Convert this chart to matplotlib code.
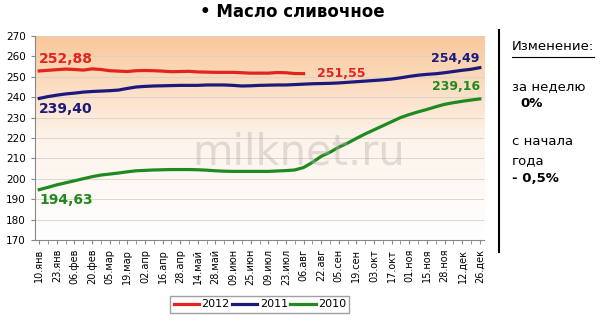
import numpy as np
import matplotlib.pyplot as plt
from matplotlib.colors import LinearSegmentedColormap

# Подписи оси X (каждая вторая неделя)
labels = ["10.янв", "23.янв", "06.фев", "20.фев", "05.мар", "19.мар", "02.апр",
          "16.апр", "28.апр", "14.май", "28.май", "09.июн", "25.июн", "09.июл",
          "23.июл", "06.авг", "22.авг", "05.сен", "19.сен", "03.окт", "17.окт",
          "01.ноя", "15.ноя", "28.ноя", "12.дек", "26.дек"]

# Цены по неделям
y2012 = [252.88, 253.2, 253.5, 253.8, 253.6, 253.3, 253.9, 253.6, 253.0, 252.8,
         252.6, 253.0, 253.1, 253.0, 252.8, 252.5, 252.6, 252.7, 252.4, 252.3,
         252.2, 252.2, 252.2, 252.0, 251.8, 251.8, 251.8, 252.1, 252.0, 251.6,
         251.55]
y2011 = [239.40, 240.3, 241.0, 241.6, 242.0, 242.5, 242.8, 243.0, 243.2, 243.5,
         244.3, 245.0, 245.3, 245.5, 245.6, 245.7, 245.8, 245.8, 245.8, 246.0,
         246.0, 246.0, 245.8, 245.5, 245.6, 245.8, 245.9, 246.0, 246.0, 246.2,
         246.4, 246.6, 246.7, 246.8, 247.0, 247.3, 247.6, 247.9, 248.2, 248.5,
         248.9, 249.5, 250.2, 250.8, 251.2, 251.5, 252.0, 252.6, 253.2, 253.7,
         254.49]
y2010 = [194.63, 195.8, 197.0, 198.0, 199.0, 200.0, 201.0, 201.8, 202.3, 202.8,
         203.4, 203.9, 204.1, 204.3, 204.4, 204.5, 204.5, 204.5, 204.4, 204.2,
         203.9, 203.7, 203.6, 203.6, 203.6, 203.6, 203.6, 203.8, 204.0, 204.3,
         205.5, 208.0, 211.0, 213.0, 215.5, 217.5, 219.8, 222.0, 224.0, 226.0,
         228.0, 230.0, 231.5, 232.8, 234.0, 235.3, 236.5, 237.3, 238.0, 238.6,
         239.16]

c12, c11, c10 = "#e3231d", "#1b1a7c", "#1f8a1f"

fig = plt.figure(figsize=(6, 3.19), dpi=100)
ax = fig.add_axes([0.058, 0.248, 0.749, 0.639])

n = len(y2011)
x = np.arange(n)
ax.set_xlim(-0.5, n - 0.5)
ax.set_ylim(170, 270)

# Градиентный фон
grad = LinearSegmentedColormap.from_list("g", ["white", "#fdf3ea", "#f9c89b"])
ax.imshow(np.linspace(0, 1, 256).reshape(-1, 1), cmap=grad, aspect="auto",
          extent=[-0.5, n - 0.5, 170, 270], origin="lower", zorder=0)

for v in range(180, 271, 10):
    ax.axhline(v, color="#d9d0c8", lw=0.6, zorder=1)

fig.text(0.497, 0.522, "milknet.ru", fontsize=30, color="#b8b0b0",
         alpha=0.4, ha="center", va="center", zorder=1)

ax.plot(np.arange(len(y2012)), y2012, color=c12, lw=2.3, label="2012", zorder=3)
ax.plot(x, y2011, color=c11, lw=2.3, label="2011", zorder=3)
ax.plot(x, y2010, color=c10, lw=2.3, label="2010", zorder=3)

fs = 10
ax.text(0, 255.5, f"{y2012[0]:.2f}".replace(".", ","), color=c12,
        fontsize=fs, fontweight="bold", va="bottom")
ax.text(0, 237.5, f"{y2011[0]:.2f}".replace(".", ","), color=c11,
        fontsize=fs, fontweight="bold", va="top")
ax.text(0, 193, f"{y2010[0]:.2f}".replace(".", ","), color=c10,
        fontsize=fs, fontweight="bold", va="top")
ax.text(len(y2012) + 0.5, y2012[-1], f"{y2012[-1]:.2f}".replace(".", ","),
        color=c12, fontsize=9, fontweight="bold", va="center")
ax.text(n - 1, 256, f"{y2011[-1]:.2f}".replace(".", ","), color=c11,
        fontsize=9, fontweight="bold", va="bottom", ha="right")
ax.text(n - 1, 242, f"{y2010[-1]:.2f}".replace(".", ","), color=c10,
        fontsize=9, fontweight="bold", va="bottom", ha="right")

ax.set_xticks(x, minor=True)
ax.set_xticks(x[::2])
ax.set_xticklabels(labels, rotation=90, fontsize=7)
ax.tick_params(axis="x", which="both", length=3, color="#888888")
ax.set_yticks(range(170, 271, 10))
ax.tick_params(axis="y", labelsize=7.5, length=3, color="#888888")
for s in ["top", "right"]:
    ax.spines[s].set_visible(False)
for s in ["left", "bottom"]:
    ax.spines[s].set_color("#888888")

leg = fig.legend(loc="center", bbox_to_anchor=(0.433, 0.0455), ncol=3,
                 fontsize=8, frameon=True, fancybox=False, edgecolor="#888888",
                 handlelength=2.3, handletextpad=0.2, columnspacing=0.2,
                 borderpad=0.3)

fig.text(0.488, 0.962, "• Масло сливочное", fontsize=12, fontweight="bold",
         ha="center", va="center")

# Правая панель
fig.add_artist(plt.Line2D([0.832, 0.832], [0.21, 0.905], color="black", lw=1.5))
fig.text(0.853, 0.853, "Изменение:", fontsize=9.5, va="center")
fig.add_artist(plt.Line2D([0.853, 0.99], [0.822, 0.822], color="black", lw=0.8))
fig.text(0.853, 0.727, "за неделю", fontsize=9.5, va="center")
fig.text(0.868, 0.677, "0%", fontsize=9.5, fontweight="bold", va="center")
fig.text(0.853, 0.555, "с начала", fontsize=9.5, va="center")
fig.text(0.853, 0.498, "года", fontsize=9.5, va="center")
fig.text(0.853, 0.442, "- 0,5%", fontsize=9.5, fontweight="bold", va="center")

fig.savefig("out.png", dpi=100)
